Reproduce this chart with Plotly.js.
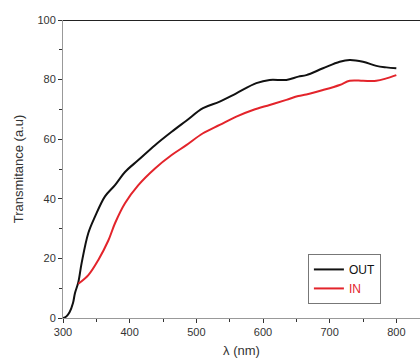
<!DOCTYPE html>
<html>
<head>
<meta charset="utf-8">
<script src="https://cdn.plot.ly/plotly-3.0.1.min.js"></script>
<style>html,body{margin:0;padding:0;background:#fff;}#chart{width:420px;height:363px;}</style>
</head>
<body>
<div id="chart"></div>
<script>
// Data
const outWavelength = [300,305,310,315,318,323,328,338,348,363,378,393,413,438,463,485,510,535,560,590,610,635,653,665,690,715,730,750,770,785,800];
const outTransmit   = [0,0.5,2,5,8.4,12,18.5,28.5,34,40.8,44.6,49,53,58,62.5,66.2,70.4,72.6,75.4,78.8,79.9,79.9,81,81.5,83.8,86,86.6,86,84.6,84.1,83.8];
const inWavelength  = [323,338,353,368,378,393,413,438,463,485,510,535,560,585,610,635,653,665,690,715,730,750,770,785,800];
const inTransmit    = [11.5,14.4,19.5,26,31.8,38.5,44.6,50.2,54.7,58,62,64.8,67.6,69.8,71.5,73.2,74.5,75,76.5,78.2,79.6,79.6,79.6,80.4,81.5];
const xTickVals = [300,400,500,600,700,800];
const yTickVals = [0,20,40,60,80,100];
const seriesNames = ['OUT', 'IN'];

const traces = [
  {x: outWavelength, y: outTransmit, type: 'scatter', mode: 'lines', name: seriesNames[0],
   line: {color: '#111111', width: 2, shape: 'spline'}},
  {x: inWavelength, y: inTransmit, type: 'scatter', mode: 'lines', name: '<span style="color:#e3242b">' + seriesNames[1] + '</span>',
   line: {color: '#e3242b', width: 2, shape: 'spline'}}
];

const layout = {
  width: 420, height: 363,
  margin: {l: 63, r: 0, t: 20, b: 45},
  paper_bgcolor: '#fff', plot_bgcolor: '#fff',
  font: {family: 'Liberation Sans, Arial, sans-serif', size: 11, color: '#333'},
  showlegend: true,
  legend: {x: 0.686, y: 0.215, xanchor: 'left', yanchor: 'top',
           bordercolor: '#777', borderwidth: 1, bgcolor: '#fff',
           font: {size: 12, color: '#111'}, tracegroupgap: 0},
  xaxis: {range: [300, 835.5], tickvals: xTickVals, ticktext: xTickVals.map(String),
          showgrid: false, zeroline: false, showline: true, linecolor: '#999', linewidth: 1,
          ticks: 'outside', ticklen: 4, tickcolor: '#333', tickwidth: 1,
          minor: {dtick: 50, ticks: 'outside', ticklen: 3, tickcolor: '#333'},
          title: {text: 'λ (nm)', font: {size: 13, color: '#333'}, standoff: 8}},
  yaxis: {range: [0, 100], tickvals: yTickVals, ticktext: yTickVals.map(String),
          showgrid: false, zeroline: false, showline: true, linecolor: '#999', linewidth: 1,
          ticks: 'outside', ticklen: 4, tickcolor: '#333', tickwidth: 1,
          minor: {dtick: 10, ticks: 'outside', ticklen: 3, tickcolor: '#333'},
          title: {text: 'Transmitance (a.u)', font: {size: 13, color: '#333'}, standoff: 10}},
  shapes: [{type: 'line', xref: 'paper', x0: 0, x1: 1, yref: 'y', y0: 100, y1: 100,
            line: {color: '#222', width: 2}}]
};

Plotly.newPlot('chart', traces, layout, {staticPlot: true, displayModeBar: false});
</script>
</body>
</html>
